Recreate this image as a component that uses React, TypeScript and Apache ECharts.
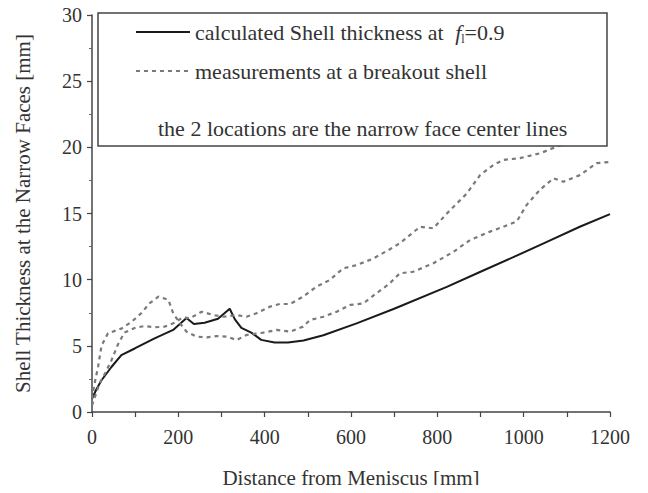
import React, { useEffect, useRef } from "react";
import * as echarts from "echarts";

// Calculated shell thickness (solid)
const calcDist = [0, 10, 22, 45, 68, 99, 145, 188, 219, 236, 261, 292, 319, 331, 346, 369, 392, 423, 454, 490, 536, 613, 700, 822, 900, 976, 1050, 1130, 1200];
const calcThick = [1.0, 1.7, 2.4, 3.4, 4.3, 4.8, 5.57, 6.2, 7.1, 6.65, 6.75, 7.05, 7.8, 7.0, 6.35, 6.0, 5.45, 5.25, 5.25, 5.4, 5.8, 6.7, 7.8, 9.45, 10.6, 11.7, 12.8, 14.0, 14.95];

// Measurement location A (dashed)
const measADist = [0, 5, 14, 22, 37, 68, 91, 114, 133, 154, 177, 188, 204, 219, 242, 266, 289, 312, 335, 358, 397, 428, 459, 489, 505, 536, 567, 598, 628, 659, 690, 713, 744, 791, 837, 876, 922, 953, 984, 1007, 1038, 1069, 1092, 1130, 1169, 1200];
const measAThick = [1.0, 2.0, 3.4, 5.0, 5.95, 6.3, 6.8, 7.46, 8.2, 8.72, 8.47, 7.46, 6.7, 6.07, 5.7, 5.64, 5.74, 5.7, 5.44, 5.82, 6.0, 6.2, 6.07, 6.45, 6.95, 7.2, 7.58, 8.09, 8.2, 8.97, 9.73, 10.48, 10.6, 11.24, 12.1, 13.0, 13.63, 14.0, 14.4, 15.65, 16.8, 17.66, 17.4, 17.9, 18.8, 18.9];

// Measurement location B (dashed)
const measBDist = [0, 18, 30, 45, 60, 75, 99, 122, 145, 168, 192, 210, 227, 254, 281, 304, 335, 358, 381, 412, 435, 459, 489, 520, 551, 582, 613, 652, 690, 713, 760, 791, 822, 868, 899, 930, 953, 991, 1038, 1076, 1107, 1150, 1200];
const measBThick = [0.5, 2.2, 2.9, 3.9, 5.1, 6.0, 6.35, 6.5, 6.4, 6.45, 6.75, 7.15, 7.08, 7.58, 7.33, 7.2, 7.33, 7.2, 7.46, 7.96, 8.16, 8.16, 8.72, 9.47, 9.98, 10.86, 11.1, 11.6, 12.3, 12.75, 14.0, 13.88, 15.0, 16.5, 17.9, 18.67, 19.05, 19.18, 19.55, 20.05, 20.4, 21.0, 21.5];

const calcName = "calculated Shell thickness at fl=0.9";
const measName = "measurements at a breakout shell";
const noteText = "the 2 locations are the narrow face center lines";
const xTitle = "Distance from Meniscus [mm]";
const yTitle = "Shell Thickness at the Narrow Faces [mm]";

const zip = (xs: number[], ys: number[]) => xs.map((x, i) => [x, ys[i]]);

const FONT = "'Liberation Serif', 'Times New Roman', 'DejaVu Serif', serif";
const TXT = "#333";

export default function App() {
  const ref = useRef<HTMLDivElement>(null);
  useEffect(() => {
    if (!ref.current) return;
    const chart = echarts.init(ref.current, undefined, { renderer: "svg" });
    const dashed = { color: "#7a7a7a", width: 2.2, type: [4, 4] as number[] };
    chart.setOption({
      animation: false,
      backgroundColor: "#fff",
      textStyle: { fontFamily: FONT },
      grid: { left: 92, right: 38, top: 15, bottom: 81 },
      xAxis: {
        type: "value",
        min: 0,
        max: 1200,
        interval: 200,
        name: xTitle,
        nameLocation: "middle",
        nameGap: 55,
        nameTextStyle: { fontFamily: FONT, fontSize: 21, color: TXT },
        axisLine: { lineStyle: { color: "#444", width: 1.5 } },
        axisTick: { length: 5, lineStyle: { color: "#444", width: 1.2 } },
        minorTick: { show: true, splitNumber: 2, length: 5, lineStyle: { color: "#444", width: 1.2 } },
        axisLabel: { fontFamily: FONT, fontSize: 20, color: TXT, margin: 15, formatter: (v: number) => String(v) },
        splitLine: { show: false },
      },
      yAxis: {
        type: "value",
        min: 0,
        max: 30,
        interval: 5,
        name: yTitle,
        nameLocation: "middle",
        nameGap: 59,
        nameTextStyle: { fontFamily: FONT, fontSize: 21, color: TXT },
        axisLine: { show: true, lineStyle: { color: "#444", width: 1.5 } },
        axisTick: { show: true, length: 5, lineStyle: { color: "#444", width: 1.2 } },
        minorTick: { show: true, splitNumber: 2, length: 3, lineStyle: { color: "#666", width: 1 } },
        axisLabel: { fontFamily: FONT, fontSize: 20, color: TXT, margin: 10, formatter: (v: number) => String(v) },
        splitLine: { show: false },
      },
      legend: {
        orient: "vertical",
        left: 130,
        top: 14,
        z: 200,
        itemWidth: 54,
        itemHeight: 14,
        itemGap: 13,
        itemStyle: { opacity: 0 },
        data: [calcName, measName],
        formatter: (name: string) =>
          name === calcName ? "{n|calculated Shell thickness at }{f|f}{s|l}{n|=0.9}" : name,
        textStyle: {
          fontFamily: FONT,
          fontSize: 22,
          color: TXT,
          lineHeight: 26,
          rich: {
            n: { fontFamily: FONT, fontSize: 22, color: TXT },
            f: { fontFamily: FONT, fontSize: 22, color: TXT, fontStyle: "italic", padding: [0, 0, 0, 6] },
            s: { fontFamily: FONT, fontSize: 12, color: TXT, verticalAlign: "bottom", padding: [14, 0, 0, 0] },
          },
        },
      },
      graphic: [
        {
          type: "rect",
          z: 100,
          shape: { x: 98, y: 13, width: 509, height: 133 },
          style: { fill: "#fff", stroke: "#444", lineWidth: 1.5 },
        },
        {
          type: "text",
          z: 101,
          x: 158,
          y: 128,
          style: {
            text: noteText,
            fontFamily: FONT,
            fontSize: 22,
            fill: TXT,
            verticalAlign: "middle",
          },
        },
      ],
      series: [
        {
          name: calcName,
          type: "line",
          symbol: "none",
          z: 3,
          data: zip(calcDist, calcThick),
          lineStyle: { color: "#1a1a1a", width: 2 },
          itemStyle: { color: "#1a1a1a" },
        },
        {
          name: measName,
          type: "line",
          symbol: "none",
          data: zip(measADist, measAThick),
          lineStyle: dashed,
          itemStyle: { color: "#7a7a7a" },
        },
        {
          name: measName,
          type: "line",
          symbol: "none",
          data: zip(measBDist, measBThick),
          lineStyle: dashed,
          itemStyle: { color: "#7a7a7a" },
        },
      ],
    });
    return () => chart.dispose();
  }, []);
  return <div ref={ref} style={{ width: 648, height: 493, margin: -8 }} />;
}
